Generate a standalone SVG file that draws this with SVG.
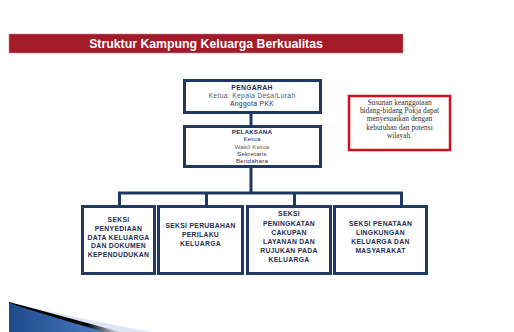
<svg xmlns="http://www.w3.org/2000/svg" width="514" height="332" viewBox="0 0 514 332">
<style>
.box{fill:#fff;stroke:#1f3864;stroke-width:3}
.conn{fill:none;stroke:#1f3864;stroke-width:3}
.t{font-family:"Liberation Sans",Arial,sans-serif;font-size:6.8px;letter-spacing:0.3px;text-anchor:middle;fill:#1f2d50}
.p{font-size:6.2px;letter-spacing:0.2px}
.b{font-weight:bold}
.g{fill:#555a66}
.s{font-family:"Liberation Serif","Times New Roman",serif;font-size:7.4px;text-anchor:middle;fill:#333}
</style>
<defs>
<linearGradient id="sw" x1="0" y1="0" x2="1" y2="0">
<stop offset="0" stop-color="#1f4a8a"/>
<stop offset="1" stop-color="#4a7cc4"/>
</linearGradient>
<linearGradient id="hl" x1="0" y1="0" x2="1" y2="0">
<stop offset="0" stop-color="#000"/>
<stop offset="0.7" stop-color="#000"/>
<stop offset="1" stop-color="#dde6f4"/>
</linearGradient>
</defs>
<rect width="514" height="332" fill="#fff"/>
<g id="title">
<rect x="9" y="34" width="394" height="19" fill="#a21b28" stroke="#d9808a" stroke-width="0.6"/>
<text x="206" y="48" font-family="'Liberation Sans',Arial,sans-serif" font-size="12.3" font-weight="bold" fill="#fff" text-anchor="middle">Struktur Kampung  Keluarga Berkualitas</text>
</g>
<g id="swoosh">
<path d="M9,302 Q75,318 152,332 L9,332 Z" fill="#dde6f4"/>
<path d="M9,302 Q62,316 120,332 L9,332 Z" fill="url(#hl)"/>
<path d="M9,303 Q55,318 105,332 L9,332 Z" fill="url(#sw)"/>
</g>
<g id="connectors">
<path class="conn" d="M251,113 V125 M251,167 V193 M119.5,193 H401.5 M119.5,191.5 V205 M206.5,193 V205 M294.5,193 V205 M401.5,191.5 V205"/>
</g>
<g id="pengarah">
<rect class="box" x="184.5" y="80.5" width="136" height="32"/>
<text class="t b" x="252" y="89.5">PENGARAH</text>
<text class="t g" x="252" y="97.5">Ketua: Kepala Desa/Lurah</text>
<text class="t" x="252" y="105.5">Anggota PKK</text>
</g>
<g id="pelaksana">
<rect class="box" x="184.5" y="126.5" width="136" height="40"/>
<text class="t p b" x="252" y="134">PELAKSANA</text>
<text class="t p" x="252" y="141.3">Ketua</text>
<text class="t p g" x="252" y="148.6">Wakil Ketua</text>
<text class="t p" x="252" y="155.9">Sekretaris</text>
<text class="t p" x="252" y="163.2">Bendahara</text>
</g>
<g id="note">
<rect x="349" y="96" width="101" height="54" fill="#fff" stroke="#d0101c" stroke-width="2.5"/>
<text class="s" x="399.5" y="104.5">Susunan  keanggotaan</text>
<text class="s" x="399.5" y="112.5">bidang-bidang  Pokja dapat</text>
<text class="s" x="399.5" y="121">menyesuaikan dengan</text>
<text class="s" x="399.5" y="129.5">kebutuhan dan potensi</text>
<text class="s" x="399.5" y="138">wilayah.</text>
</g>
<g id="seksi1">
<rect class="box" x="82.5" y="206.5" width="72" height="67"/>
<text class="t b" x="118.5" y="221.5">SEKSI</text>
<text class="t b" x="118.5" y="230.5">PENYEDIAAN</text>
<text class="t b" x="118.5" y="239.5">DATA  KELUARGA</text>
<text class="t b" x="118.5" y="248">DAN DOKUMEN</text>
<text class="t b" x="118.5" y="256.5">KEPENDUDUKAN</text>
</g>
<g id="seksi2">
<rect class="box" x="158.5" y="206.5" width="84" height="67"/>
<text class="t b" x="200.5" y="227.5">SEKSI PERUBAHAN</text>
<text class="t b" x="200.5" y="236.5">PERILAKU</text>
<text class="t b" x="200.5" y="245.5">KELUARGA</text>
</g>
<g id="seksi3">
<rect class="box" x="247.5" y="206.5" width="83" height="67"/>
<text class="t b" x="289" y="215.5">SEKSI</text>
<text class="t b" x="289" y="225.5">PENINGKATAN</text>
<text class="t b" x="289" y="234.5">CAKUPAN</text>
<text class="t b" x="289" y="244">LAYANAN DAN</text>
<text class="t b" x="289" y="252.5">RUJUKAN PADA</text>
<text class="t b" x="289" y="261.5">KELUARGA</text>
</g>
<g id="seksi4">
<rect class="box" x="334.5" y="206.5" width="92" height="67"/>
<text class="t b" x="380.5" y="225.5">SEKSI PENATAAN</text>
<text class="t b" x="380.5" y="234.5">LINGKUNGAN</text>
<text class="t b" x="380.5" y="244">KELUARGA  DAN</text>
<text class="t b" x="380.5" y="252.5">MASYARAKAT</text>
</g>
</svg>
